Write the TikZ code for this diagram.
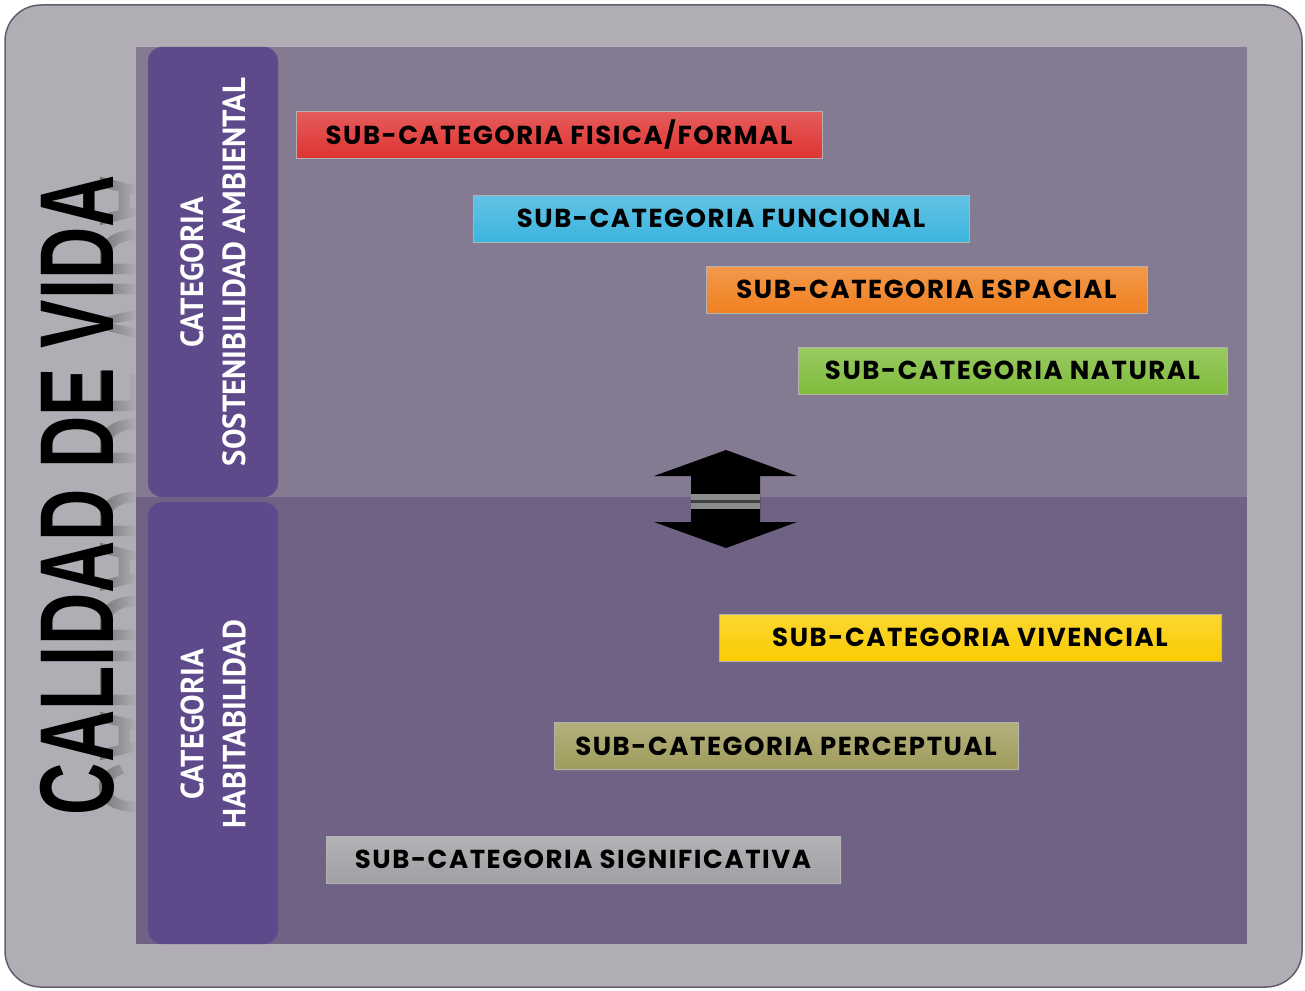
\documentclass[tikz,border=0pt]{standalone}
\usepackage{fontspec}
\usepackage{xcolor}
\usetikzlibrary{shadows,fadings}
\newfontfamily\barfont{Poppins}[LetterSpace=6]
\newfontfamily\catfont{PT Sans}
\newfontfamily\titlefont{Liberation Sans}
\definecolor{outerbg}{RGB}{177,173,181}
\definecolor{frameline}{RGB}{100,94,108}
\definecolor{paneltop}{RGB}{132,122,146}
\definecolor{panelbot}{RGB}{112,98,132}
\definecolor{catbox}{RGB}{94,74,138}
\definecolor{subred}{RGB}{222,52,50}
\definecolor{subcyan}{RGB}{60,180,222}
\definecolor{suborange}{RGB}{240,128,32}
\definecolor{subgreen}{RGB}{128,188,60}
\definecolor{subyellow}{RGB}{250,204,0}
\definecolor{subolive}{RGB}{160,156,92}
\definecolor{subgrey}{RGB}{160,160,164}
\tikzfading[name=fadeleft, left color=transparent!100, right color=transparent!0]
\tikzset{
  subbar/.style={draw=black!30, line width=0.6pt, minimum height=47pt, inner sep=0pt,
    top color=#1!80!white, bottom color=#1, text=black,
    font=\barfont\bfseries\fontsize{26}{26}\selectfont,
    drop shadow={shadow xshift=1.5pt, shadow yshift=-2pt, opacity=0.35}},
  cattext/.style={rotate=90, xscale=0.96, align=center, text=white, inner sep=0pt,
    font=\catfont\bfseries\fontsize{32}{42}\selectfont},
  titletext/.style={rotate=90, xscale=0.69, anchor=base, inner sep=0pt,
    font=\titlefont\bfseries\fontsize{105}{105}\selectfont}
}
\begin{document}
\begin{tikzpicture}[x=1pt,y=-1pt]
	\useasboundingbox (0,0) rectangle (1305,990);
		\draw [draw=frameline, line width=1.5pt, fill=outerbg, rounded corners=36pt] (5,5) rectangle (1302,987);
		% reflection of the title
		\node [titletext, yscale=-1, text=black!55] (reflejo) at (100,495) {CALIDAD DE VIDA};
		\fill [outerbg, path fading=fadeleft] (98,150) rectangle (137,840);
		\fill [paneltop] (136,47) rectangle (1247,496);
		\fill [panelbot] (136,496) rectangle (1247,944);
		\draw [white, opacity=0.15, line width=1pt] (136,496) to (1247,496);
		\fill [catbox, rounded corners=14pt] (148,47) rectangle (278,497);
		\fill [catbox, rounded corners=14pt] (148,502) rectangle (278,944);
		\node [titletext] (titulo) at (113,495) {CALIDAD DE VIDA};
		\node [cattext] (sostenibilidad) at (213,272) {CATEGORIA\\SOSTENIBILIDAD AMBIENTAL};
		\node [cattext] (habitabilidad) at (213,724) {CATEGORIA\\HABITABILIDAD};
		\node [subbar=subred, minimum width=526pt] (fisica) at (559,134.5) {SUB-CATEGORIA FISICA/FORMAL};
		\node [subbar=subcyan, minimum width=496pt] (funcional) at (721,218.5) {SUB-CATEGORIA FUNCIONAL};
		\node [subbar=suborange, minimum width=441pt] (espacial) at (926.5,289.5) {SUB-CATEGORIA ESPACIAL};
		\node [subbar=subgreen, minimum width=429pt] (natural) at (1012.5,370.5) {SUB-CATEGORIA NATURAL};
		\node [subbar=subyellow, minimum width=502pt] (vivencial) at (970,637.5) {SUB-CATEGORIA VIVENCIAL};
		\node [subbar=subolive, minimum width=464pt] (perceptual) at (786,746) {SUB-CATEGORIA PERCEPTUAL};
		\node [subbar=subgrey, minimum width=514pt] (significativa) at (583,859.5) {SUB-CATEGORIA SIGNIFICATIVA};
		% double arrow between the two categories
		\fill [black] (726,450) -- (797,476) -- (760,476) -- (760,522) -- (797,522) -- (726,548)
			-- (654,522) -- (691,522) -- (691,476) -- (654,476) -- cycle;
		\fill [black!45] (691,494) rectangle (760,509);
		\fill [black!75] (691,500) rectangle (760,503);
	\end{tikzpicture}
\end{document}
